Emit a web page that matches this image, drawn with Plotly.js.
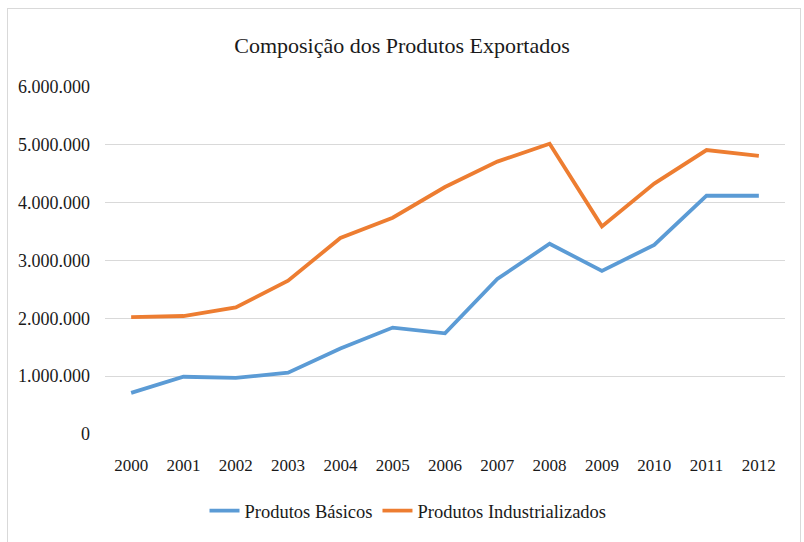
<!DOCTYPE html>
<html>
<head>
<meta charset="utf-8">
<script src="https://cdn.plot.ly/plotly-3.0.1.min.js"></script>
<style>
html,body{margin:0;padding:0;background:#fff;overflow:hidden;}
#wrap{position:relative;width:804px;height:542px;}
#chart{width:804px;height:542px;}
#frame{position:absolute;left:7px;top:8px;width:792px;height:600px;border:1px solid #d9d9d9;pointer-events:none;}
</style>
</head>
<body>
<div id="wrap"><div id="chart"></div><div id="frame"></div></div>
<script>
const years = ['2000','2001','2002','2003','2004','2005','2006','2007','2008','2009','2010','2011','2012'];
const basicos = [710000, 990000, 970000, 1060000, 1480000, 1840000, 1740000, 2680000, 3290000, 2820000, 3270000, 4120000, 4120000];
const industrializados = [2020000, 2040000, 2190000, 2650000, 3390000, 3740000, 4270000, 4710000, 5020000, 3590000, 4330000, 4910000, 4810000];
const seriesNames = ['Produtos Básicos', 'Produtos Industrializados'];
const chartTitle = 'Composição dos Produtos Exportados';

const font = 'Liberation Serif, Times New Roman, serif';
const traces = [
  {x: years, y: basicos, name: seriesNames[0], type: 'scatter', mode: 'lines',
   line: {color: '#5b9bd5', width: 3.8}},
  {x: years, y: industrializados, name: seriesNames[1], type: 'scatter', mode: 'lines',
   line: {color: '#ed7d31', width: 3.8}}
];
const layout = {
  width: 804, height: 542,
  margin: {l: 105, r: 19, t: 87, b: 105},
  paper_bgcolor: '#fff', plot_bgcolor: '#fff',
  separators: ',.',
  font: {family: font, size: 18, color: '#1a1a1a'},
  title: {text: chartTitle, x: 0.5, xanchor: 'center', y: 1 - 45/542, yref: 'container', yanchor: 'middle',
          font: {family: font, size: 22, color: '#1a1a1a'}},
  xaxis: {type: 'category', range: [-0.5, 12.5], showgrid: false, showline: false, zeroline: false,
          ticks: '', ticklabelstandoff: 19, tickfont: {size: 17}},
  yaxis: {range: [0, 6000000], dtick: 1000000, tickformat: ',d', showgrid: true, gridcolor: '#d9d9d9',
          gridwidth: 1, zeroline: false, showline: false, ticks: '', ticklabelstandoff: 14, tickfont: {size: 18}},
  showlegend: true,
  legend: {orientation: 'h', x: 0.4456, xanchor: 'center', y: -0.222, yanchor: 'middle',
           font: {size: 18.5}, itemwidth: 30, traceorder: 'normal'}
};
Plotly.newPlot('chart', traces, layout, {displayModeBar: false, staticPlot: true});
</script>
</body>
</html>
